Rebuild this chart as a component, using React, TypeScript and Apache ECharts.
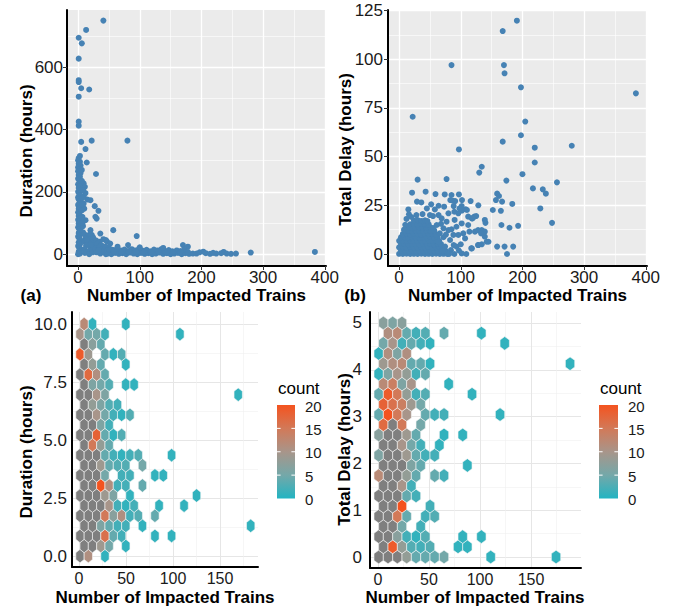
import React, { useEffect, useRef } from 'react';
import * as echarts from 'echarts';

// ---------- DATA ----------
// (a) Number of impacted trains vs Duration (hours)
const SCATTER_A: number[][] = [
  // outliers
  [41,749],[13,719],[1,694],[6,676],[1,627],[1,558],[1,552],[5,532],[18,528],[1,505],[1,425],[1,412],[5,360],[22,364],[80,364],[12,337],[3,315],[14,294],[29,257],
  [9,227],[11,216],[8,206],[15,175],[20,173],[27,154],[33,139],[28,120],[30,114],[12,109],[20,77],[36,66],[57,77],[45,45],[95,58],[170,29],[178,24],[384,7],[280,5],[10,146],[9,186],[12,196],[9,162],[18,62],[24,55],[41,48],
  // column near zero trains
  [1,308],[0,301],[3,296],[1,290],[4,284],[0,278],[2,272],[0,266],[4,260],[1,254],[3,248],[0,242],[2,236],[4,230],[0,224],[2,218],[1,212],[4,206],[0,200],[2,194],[3,188],[0,182],[1,176],[4,170],[2,164],[0,158],[3,152],[1,146],[4,140],[0,134],[2,128],[1,122],[4,116],[0,110],[3,104],[1,98],[4,92],[0,86],[2,80],[4,74],[1,68],[3,62],[0,56],[2,50],[4,44],[1,38],[3,32],[0,26],[2,20],[4,14],[1,8],[3,2],[0,0],
  [7,120],[8,90],[6,140],[8,205],[7,180],[6,235],[7,160],[6,270],[7,100],[8,70],
  // dense blob
  [10,64],[16,58],[22,62],[12,52],[19,46],[25,50],[10,40],[16,34],[23,38],[13,28],[20,22],[26,28],[10,16],[17,10],[23,16],[11,4],[18,0],[24,6],[14,46],[21,30],
  [29,44],[35,40],[31,32],[38,28],[28,18],[34,22],[40,16],[30,6],[36,2],[41,8],[33,12],
  [44,24],[50,20],[47,12],[53,6],[45,0],[56,14],
  // tail along the axis
  [48,2],[54,0],[60,4],[66,1],[72,3],[78,0],[84,5],[90,2],[96,0],[102,4],[108,1],[114,3],[120,0],[126,2],[132,5],[138,1],[144,3],[150,0],[156,2],[162,4],[168,0],[174,3],[180,1],[186,2],
  [51,14],[57,11],[63,17],[69,12],[75,15],[81,10],[87,16],[93,12],[99,18],[105,11],[111,14],[117,9],[123,15],[129,12],[135,16],[141,10],[147,13],[153,9],[160,12],[166,10],[172,14],
  [58,7],[70,6],[82,8],[94,7],[106,6],[118,7],[130,8],[142,6],[154,7],[166,6],[178,7],
  [192,2],[197,6],[203,8],[207,3],[214,1],[219,4],[224,2],[232,3],[236,7],[241,2],[248,1],[256,2],
  [47,40],[52,34],[81,29],[138,20],[64,24],[100,22]
];

// (b) Number of impacted trains vs Total delay (hours)
const SCATTER_B: number[][] = [
  // dense blob
  [0,0.1],[6,0],[12,0.2],[18,0],[24,0.1],[30,0],[36,0.2],[42,0],[48,0.1],[54,0],[60,0.2],[66,0],[72,0.1],[78,0],
  [3,1.7],[9,1.9],[15,1.6],[21,1.8],[27,1.7],[33,1.9],[39,1.6],[45,1.8],[51,1.7],[57,1.9],[63,1.6],[69,1.8],[75,1.7],
  [0,3.4],[6,3.5],[12,3.3],[18,3.6],[24,3.4],[30,3.3],[36,3.5],[42,3.4],[48,3.6],[54,3.3],[60,3.5],[66,3.4],[71,3.2],
  [3,5.1],[9,5.2],[15,5.0],[21,5.3],[27,5.1],[33,5.0],[39,5.2],[45,5.1],[51,5.3],[57,5.0],[63,5.2],[68,5.1],
  [0,6.8],[6,6.9],[12,6.7],[18,7.0],[24,6.8],[30,6.7],[36,6.9],[42,6.8],[48,7.0],[54,6.7],[60,6.9],[65,6.8],
  [3,8.5],[9,8.6],[15,8.4],[21,8.7],[27,8.5],[33,8.4],[39,8.6],[45,8.5],[51,8.7],[57,8.4],[62,8.6],
  [6,10.2],[12,10.3],[18,10.1],[24,10.4],[30,10.2],[36,10.1],[42,10.3],[48,10.2],[54,10.4],[60,10.1],
  [9,11.9],[15,12.0],[21,11.8],[27,12.1],[33,11.9],[39,11.8],[45,12.0],[51,11.9],[57,12.1],
  [14,13.6],[20,13.7],[26,13.5],[32,13.8],[38,13.6],[44,13.5],[50,13.7],[55,13.4],
  [18,15.3],[24,15.4],[30,15.2],[36,15.5],[42,15.3],[48,15.2],
  [24,17.1],[30,17.4],[36,17.0],[42,17.3],[46,16.9],
  // fringe
  [66,10.6],[72,8.6],[64,6.3],[74.5,3.8],[82.6,7.2],[88,9.8],[93,3.8],[72,13.2],[61,14.9],[80,12.3],[90,17.5],[70,1.5],[84,2],[97,1.8],[76,10],[68,15.5],[55,19.5],[50,20],[38,20.5],[28,20],[20,19],[10,15],[8,12.5],[12,18],
  [15,22.9],[16,20.4],[45,23.4],[58,22.9],[64,20],[69,18.3],[77,16.6],[29,26.9],[36,26.5],[52,25.5],[64,24.8],[73,24.3],[88.5,24.6],[101.5,24.6],[108,23],[102,22.3],[80,20.9],[89.6,21.7],[96,20.9],[110,22.6],[83,27.7],[87,27.4],[21,31.5],[43,32],[59,30.8],[74,30.6],[85,30.3],[97,30.6],[30,38.2],[77,38.5],[22,70.5],[85,97],[97,53.7],
  [118,18.3],[122,19.2],[125,19.5],[139,17.5],[140,16],[112,14.9],[123,11.5],[134,12.3],[139,11.5],[145,6.3],[134,5],[128.5,4.6],[117,2.9],[101.5,0.3],[109,0],[89.6,0],[81,0],[100,5],[88.5,4.6],[107,8],[104,10.6],[96,9.8],[85,12.7],[93,14],[101.5,15.7],[128.5,25],[116,27.2],
  [91,27.2],[102,27.7],[98,23.4],[112,19.2],[119,18.3],[114,11.5],[128,12.3],[133,10.6],[139,8.9],[142,6.3],[128,4.6],[118,2.9],
  // sparse upper region
  [191,119.8],[168,114.5],[170,97],[171,92.8],[197.6,85.6],[384,82.5],[204.6,68],[197.6,61],[168,57.7],[280,55.6],[220,54.6],[220,47],[134,44.8],[130,41.8],[200,41],[174,37.7],[256,36.8],[217,33.7],[233,33.2],[238,31],[159,31],[162,29.8],[157,27.7],[167,26.9],[183.5,25.7],[229,23.4],[152,22.6],[165,22.2],[248,16],[193,14.5],[179,13.5],[166,14.9],[159,3.8],[171,3.8],[185,3.8],[175,0]
];

// (c) hexbin counts: rows bottom -> top, columns left -> right (0 = empty bin)
const HEX_C_ROWS: number[][] = [
  [25,11,0,1],
  [25,25,9,5,0,1],
  [25,25,25,16,4,2,0,0,0,1,0,1],
  [25,25,6,4,2,2,0,1,0,0,0,0,0,0,0,0,0,0,0,0,1],
  [25,25,25,15,7,11,2,3,0,4],
  [25,25,25,10,2,1,2,0,0,1,0,0,1],
  [25,25,25,9,6,0,1,0,0,0,0,0,0,0,1],
  [25,25,20,11,2,2,0,4],
  [25,25,25,5,0,2,2,0,0,1,1],
  [25,25,9,4,3,3,0,5],
  [25,25,25,4,2,1,2,3,0,0,0,1],
  [25,15,8,4],
  [25,25,18,4,1,3],
  [25,25,6,2],
  [25,25,10,5,2,1,3],
  [25,8,6,3,2],
  [25,25,10,6,0,0,0,0,0,0,0,0,0,0,0,0,0,0,0,1],
  [25,6,5,3,0,1,1],
  [25,17,11,4],
  [25,8,4,0,0,1],
  [19,9,0,4,1,3],
  [25,7,4],
  [10,5,5,2,0,0,0,0,0,0,0,0,1],
  [12,1,0,0,0,1]
];

// (d) hexbin counts
const HEX_D_ROWS: number[][] = [
  [25,25,25,8,4,4,4,5,0,0,0,0,1,0,0,0,0,0,0,1],
  [25,19,8,3,2,3,0,0,1,1],
  [25,25,7,2,1,3,0,0,0,1,0,1],
  [25,25,5,0,2],
  [25,25,15,4,0,2,3],
  [25,25,20,0,0,2],
  [25,25,25,4,2],
  [25,25,10,2],
  [12,25,25,8,4,0,4,2],
  [25,25,25,6,4,0,0,0,0,1],
  [6,25,25,9,4,2,2],
  [25,25,10,5,2,0,1],
  [7,25,25,9,4,0,0,1,0,1],
  [17,25,15,0,5],
  [4,20,15,10,0,4,2,2,0,0,0,0,0,1],
  [18,16,14,9,5],
  [4,19,15,8,2,3,0,0,0,0,1],
  [12,14,6,10,0,0,0,1],
  [1,6,10,8,2,4],
  [9,11,12,4,4,1,0,0,0,0,0,0,0,0,0,0,0,0,0,0,1],
  [1,11,6,11],
  [5,10,2,4,2,1,0,0,0,0,0,0,0,1],
  [0,11,12,4,2,3,0,4,0,0,0,1],
  [7,6,7]
];

// hex bin grids (bin origin, bin width in trains, row height in hours)
const HEX_C_BINS = { x0: 1, dx: 8.86, dy: 10 / 23 };
const HEX_D_BINS = { x0: 0.7, dx: 9.15, dy: 5 / 23 };

// tick values
const TICKS_A_X = [0, 100, 200, 300, 400];
const MINOR_A_X = [50, 150, 250, 350];
const TICKS_A_Y = [0, 200, 400, 600];
const MINOR_A_Y = [100, 300, 500, 700];
const TICKS_B_Y = [0, 25, 50, 75, 100, 125];
const MINOR_B_Y = [12.5, 37.5, 62.5, 87.5, 112.5];
const TICKS_CD_X = [0, 50, 100, 150];
const MINOR_CD_X = [25, 75, 125, 175];
const TICKS_C_Y = [0, 2.5, 5, 7.5, 10];
const MINOR_C_Y = [1.25, 3.75, 6.25, 8.75];
const TICKS_D_Y = [0, 1, 2, 3, 4, 5];
const MINOR_D_Y = [0.5, 1.5, 2.5, 3.5, 4.5];
const COUNT_TICKS = [0, 5, 10, 15, 20];

const COUNT_COLORS = ['#22B4C2', '#74A8A9', '#A8958A', '#D27958', '#F4531F'];
const NA_GREY = '#7F7F7F';
const POINT_COLOR = '#4682B4';
const FONT = '"Liberation Sans", Arial, sans-serif';
const LABEL_COLOR = '#1a1a1a';

function hexData(rows: number[][], bins: { x0: number; dx: number; dy: number }) {
  const out: number[][] = [];
  rows.forEach((row, r) => {
    row.forEach((c, i) => {
      if (c > 0) out.push([bins.x0 + bins.dx * (i + (r % 2 ? 0.5 : 0)), r * bins.dy, c]);
    });
  });
  return out;
}

function hexRenderer(bins: { dx: number; dy: number }) {
  return (params: any, api: any) => {
    const cx = api.value(0);
    const cy = api.value(1);
    const hw = bins.dx / 2;
    const h = (bins.dy * 2) / 3;
    const h2 = bins.dy / 3;
    const pts = [
      [cx, cy + h], [cx + hw, cy + h2], [cx + hw, cy - h2],
      [cx, cy - h], [cx - hw, cy - h2], [cx - hw, cy + h2],
    ].map((p) => api.coord(p));
    return {
      type: 'polygon',
      shape: { points: pts },
      style: { fill: api.visual('color'), stroke: '#f5f5f5', lineWidth: 0.6 },
    };
  };
}

type AxOpt = {
  grid: number; min: number; max: number; ticks: number[];
  top: boolean; margin: number; size?: number; fmt?: (v: number) => string;
};

function majorAxis(o: AxOpt) {
  return {
    type: 'value', gridIndex: o.grid, min: o.min, max: o.max,
    axisLine: { show: true, onZero: false, lineStyle: { color: '#000', width: 2 } },
    axisTick: { show: o.top, customValues: o.ticks, length: 4, lineStyle: { color: '#333', width: 1 } },
    axisLabel: {
      customValues: o.ticks, fontSize: o.size || 17, color: LABEL_COLOR, fontFamily: FONT, margin: o.margin,
      formatter: o.fmt || ((v: number) => String(v)),
    },
    splitLine: { show: true, lineStyle: { color: o.top ? '#ffffff' : '#E6E6E6', width: o.top ? 1.3 : 1 } },
  };
}

function minorAxis(grid: number, min: number, max: number, ticks: number[], top: boolean) {
  return {
    type: 'value', gridIndex: grid, min, max,
    axisLine: { show: false },
    axisTick: { show: false, customValues: ticks },
    axisLabel: { show: false, customValues: ticks },
    splitLine: { show: true, lineStyle: { color: top ? '#ffffff' : '#F0F0F0', width: 0.6 } },
  };
}

function txt(text: string, x: number, y: number, o: any = {}) {
  return {
    type: 'text', x, y, rotation: o.rot || 0, silent: true,
    style: {
      text, fontFamily: FONT, fontSize: o.size || 17, fontWeight: o.bold ? 'bold' : 'normal',
      fill: o.color || '#000', align: o.align || 'center', verticalAlign: 'middle',
    },
  };
}

function colorbar(x: number, top: number, bottom: number, width: number) {
  const els: any[] = [];
  const stops = COUNT_COLORS.map((c, i) => ({ offset: 1 - i / (COUNT_COLORS.length - 1), color: c }));
  stops.reverse();
  els.push({
    type: 'rect', shape: { x, y: top, width, height: bottom - top }, silent: true,
    style: { fill: new echarts.graphic.LinearGradient(0, 0, 0, 1, stops) },
  });
  const yOf = (v: number) => bottom - (v / 20) * (bottom - top);
  COUNT_TICKS.forEach((v) => {
    const y = yOf(v);
    if (v > 0 && v < 20) {
      els.push({ type: 'line', silent: true, shape: { x1: x, y1: y, x2: x + 3.6, y2: y }, style: { stroke: '#fff', lineWidth: 1 } });
      els.push({ type: 'line', silent: true, shape: { x1: x + width - 3.6, y1: y, x2: x + width, y2: y }, style: { stroke: '#fff', lineWidth: 1 } });
    }
    els.push(txt(String(v), x + width + 10, y + 1, { size: 15, align: 'left', color: LABEL_COLOR }));
  });
  els.push(txt('count', x + 1, top - 17, { size: 17, align: 'left' }));
  return els;
}

export default function App() {
  const ref = useRef<HTMLDivElement>(null);
  useEffect(() => {
    if (!ref.current) return;
    const chart = echarts.init(ref.current, null, { renderer: 'svg' });
    const A = { min: -18, max: 402 };
    const AY = { min: -38, max: 783 };
    const BY = { min: -6.15, max: 125.3 };
    const CX = { min: -7.5, max: 190.4 };
    const CY = { min: -0.47, max: 10.52 };
    const DX = { min: -7.8, max: 199 };
    const DY = { min: -0.235, max: 5.235 };
    const fmt1 = (v: number) => v.toFixed(1);

    const option: any = {
      animation: false,
      backgroundColor: '#ffffff',
      grid: [
        { left: 67, top: 10, width: 259, height: 256, show: true, backgroundColor: '#EBEBEB', borderWidth: 0, containLabel: false, outerBoundsMode: 'none' },
        { left: 388, top: 10, width: 259, height: 256, show: true, backgroundColor: '#EBEBEB', borderWidth: 0, containLabel: false, outerBoundsMode: 'none' },
        { left: 72, top: 312, width: 186, height: 255, containLabel: false, outerBoundsMode: 'none' },
        { left: 370, top: 312, width: 211, height: 256, containLabel: false, outerBoundsMode: 'none' },
      ],
      xAxis: [
        majorAxis({ grid: 0, ...A, ticks: TICKS_A_X, top: true, margin: 3 }),
        majorAxis({ grid: 1, ...A, ticks: TICKS_A_X, top: true, margin: 3 }),
        majorAxis({ grid: 2, ...CX, ticks: TICKS_CD_X, top: false, margin: 3, size: 16 }),
        majorAxis({ grid: 3, ...DX, ticks: TICKS_CD_X, top: false, margin: 3, size: 16 }),
        minorAxis(0, A.min, A.max, MINOR_A_X, true),
        minorAxis(1, A.min, A.max, MINOR_A_X, true),
        minorAxis(2, CX.min, CX.max, MINOR_CD_X, false),
        minorAxis(3, DX.min, DX.max, MINOR_CD_X, false),
      ],
      yAxis: [
        majorAxis({ grid: 0, ...AY, ticks: TICKS_A_Y, top: true, margin: 4 }),
        majorAxis({ grid: 1, ...BY, ticks: TICKS_B_Y, top: true, margin: 5 }),
        majorAxis({ grid: 2, ...CY, ticks: TICKS_C_Y, top: false, margin: 5, fmt: fmt1 }),
        majorAxis({ grid: 3, ...DY, ticks: TICKS_D_Y, top: false, margin: 8 }),
        minorAxis(0, AY.min, AY.max, MINOR_A_Y, true),
        minorAxis(1, BY.min, BY.max, MINOR_B_Y, true),
        minorAxis(2, CY.min, CY.max, MINOR_C_Y, false),
        minorAxis(3, DY.min, DY.max, MINOR_D_Y, false),
      ],
      visualMap: [
        { type: 'continuous', show: false, seriesIndex: 2, dimension: 2, min: 0, max: 20.01, range: [0, 20.005], inRange: { color: COUNT_COLORS }, outOfRange: { color: NA_GREY } },
        { type: 'continuous', show: false, seriesIndex: 3, dimension: 2, min: 0, max: 20.01, range: [0, 20.005], inRange: { color: COUNT_COLORS }, outOfRange: { color: NA_GREY } },
      ],
      series: [
        { type: 'scatter', xAxisIndex: 0, yAxisIndex: 0, data: SCATTER_A, symbolSize: 6, itemStyle: { color: POINT_COLOR, opacity: 1 }, silent: true },
        { type: 'scatter', xAxisIndex: 1, yAxisIndex: 1, data: SCATTER_B, symbolSize: 6, itemStyle: { color: POINT_COLOR, opacity: 1 }, silent: true },
        { type: 'custom', xAxisIndex: 2, yAxisIndex: 2, data: hexData(HEX_C_ROWS, HEX_C_BINS), dimensions: ['x', 'y', 'count'], encode: { x: 0, y: 1 }, renderItem: hexRenderer(HEX_C_BINS), silent: true, clip: true },
        { type: 'custom', xAxisIndex: 3, yAxisIndex: 3, data: hexData(HEX_D_ROWS, HEX_D_BINS), dimensions: ['x', 'y', 'count'], encode: { x: 0, y: 1 }, renderItem: hexRenderer(HEX_D_BINS), silent: true, clip: true },
      ],
      graphic: [
        txt('Number of Impacted Trains', 196.5, 295.5, { bold: true }),
        txt('Number of Impacted Trains', 517.5, 295.5, { bold: true }),
        txt('Number of Impacted Trains', 165, 597.5, { bold: true }),
        txt('Number of Impacted Trains', 475, 597.5, { bold: true }),
        txt('Duration (hours)', 26, 151, { bold: true, rot: Math.PI / 2 }),
        txt('Total Delay (hours)', 345, 149.5, { bold: true, rot: Math.PI / 2 }),
        txt('Duration (hours)', 26, 452, { bold: true, rot: Math.PI / 2 }),
        txt('Total Delay (hours)', 344, 449.5, { bold: true, rot: Math.PI / 2 }),
        txt('(a)', 31, 295.5, { bold: true }),
        txt('(b)', 355, 295.5, { bold: true }),
        ...colorbar(277, 405, 498.5, 18),
        ...colorbar(599, 405, 498.5, 19),
      ],
    };
    chart.setOption(option);
    return () => chart.dispose();
  }, []);
  return <div ref={ref} style={{ position: 'absolute', left: 0, top: 0, width: 678, height: 610 }} />;
}
